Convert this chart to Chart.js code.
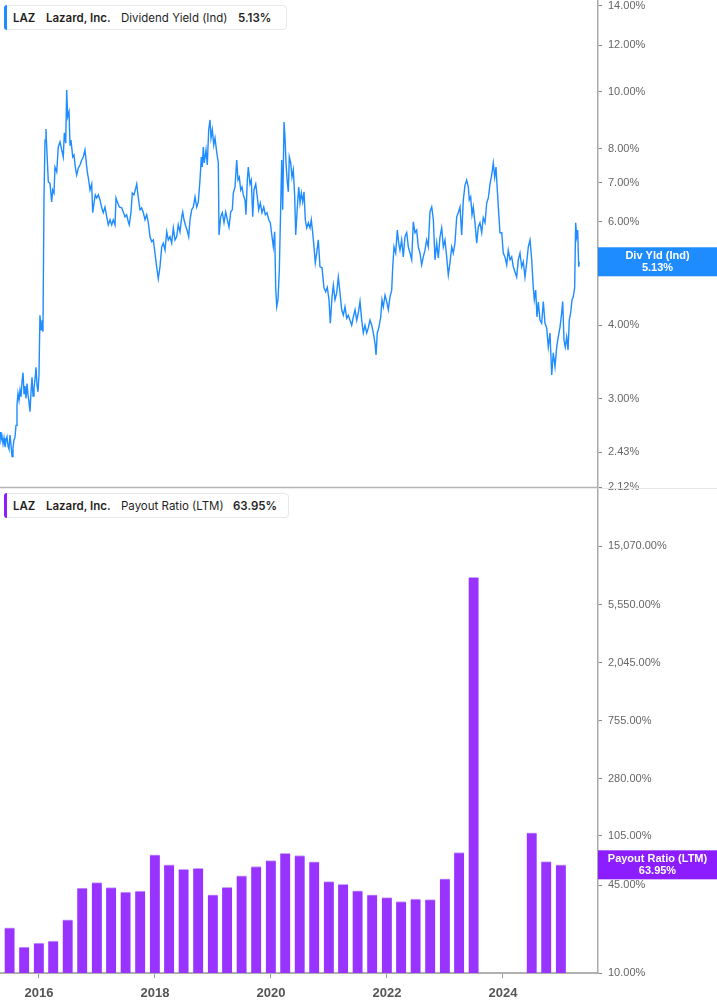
<!DOCTYPE html>
<html>
<head>
<meta charset="utf-8">
<script src="https://cdn.jsdelivr.net/npm/chart.js@4.4.1/dist/chart.umd.min.js"></script>
<style>
  html, body { margin:0; padding:0; background:#fff; }
  body { width:717px; height:1005px; position:relative; overflow:hidden; font-family: Inter, "Noto Sans", Arial, sans-serif; }
  canvas { position:absolute; left:0; }
  .leg { position:absolute; left:4px; height:25px; border:1px solid #e6e6e6; border-radius:4px; background:#fff; z-index:5; box-sizing:border-box; }
  .leg .cb { position:absolute; left:-1px; top:-1px; bottom:-1px; width:3px; border-radius:3px 0 0 3px; }
  .leg span { position:absolute; top:5px; font-size:11.5px; color:#1f1f1f; white-space:nowrap; line-height:14px; }
  .leg .b { font-weight:600; }
</style>
</head>
<body>
<canvas id="bot" width="717" height="517" style="top:488px"></canvas>
<canvas id="top" width="717" height="500" style="top:0px"></canvas>

<div class="leg" style="top:5px;width:283px;">
  <div class="cb" style="background:#1e8cff"></div>
  <span class="b" style="left:8px">LAZ</span>
  <span class="b" style="left:41px">Lazard, Inc.</span>
  <span style="left:116px">Dividend Yield (Ind)</span>
  <span class="b" style="left:233px">5.13%</span>
</div>
<div class="leg" style="top:493px;width:285px;">
  <div class="cb" style="background:#8b1dff"></div>
  <span class="b" style="left:8px">LAZ</span>
  <span class="b" style="left:41px">Lazard, Inc.</span>
  <span style="left:116px">Payout Ratio (LTM)</span>
  <span class="b" style="left:228px">63.95%</span>
</div>

<script>
// ---------------- DATA ----------------
const yieldDates = [
2015.328,2015.345,2015.362,2015.380,2015.397,2015.414,2015.431,2015.449,2015.466,2015.483,
2015.500,2015.518,2015.535,2015.552,2015.569,2015.587,2015.604,2015.621,2015.638,2015.656,
2015.673,2015.690,2015.707,2015.725,2015.742,2015.759,2015.776,2015.794,2015.811,2015.828,
2015.845,2015.863,2015.880,2015.897,2015.914,2015.931,2015.949,2015.966,2015.983,2016.000,
2016.017,2016.035,2016.052,2016.069,2016.086,2016.104,2016.121,
2016.133,2016.161,2016.190,2016.219,2016.237,2016.259,2016.276,2016.306,2016.333,2016.363,
2016.392,2016.419,2016.437,2016.461,2016.478,2016.495,2016.518,2016.535,2016.552,2016.582,
2016.604,2016.626,2016.650,2016.678,2016.707,2016.737,2016.764,2016.793,2016.811,2016.833,
2016.857,2016.880,2016.909,2016.926,2016.949,2016.971,2016.995,2017.023,2017.052,
2017.082,2017.109,2017.138,2017.168,2017.195,2017.225,2017.254,2017.281,2017.311,2017.328,
2017.350,2017.385,2017.426,2017.454,2017.483,2017.512,2017.540,2017.557,2017.587,2017.609,
2017.638,2017.668,2017.685,2017.713,2017.742,2017.771,2017.799,2017.828,2017.857,2017.885,
2017.914,2017.943,2017.971,2018.000,2018.029,2018.057,2018.086,
2018.116,2018.143,2018.173,2018.202,2018.230,2018.259,2018.288,2018.316,2018.345,2018.374,
2018.402,2018.431,2018.461,2018.478,2018.500,2018.535,2018.557,2018.581,2018.604,2018.633,
2018.661,2018.690,2018.719,2018.747,2018.776,2018.799,2018.816,2018.833,2018.850,2018.880,
2018.902,2018.926,2018.949,2018.966,2018.989,2019.013,2019.035,2019.064,2019.092,2019.104,
2019.133,2019.161,2019.190,2019.219,2019.247,2019.276,2019.306,2019.333,2019.351,2019.380,
2019.409,2019.431,2019.454,2019.478,2019.500,2019.523,2019.552,2019.569,2019.592,2019.609,
2019.638,2019.661,2019.685,2019.707,2019.737,2019.764,2019.788,2019.816,2019.845,2019.875,
2019.902,2019.931,2019.961,2019.988,2020.018,2020.040,2020.064,2020.081,2020.099,2020.121,2020.144,
2020.185,2020.202,2020.225,2020.242,2020.259,2020.281,2020.299,2020.316,2020.340,2020.362,
2020.385,2020.409,2020.426,2020.454,2020.478,2020.500,2020.523,2020.547,2020.569,2020.592,
2020.616,2020.644,2020.673,2020.695,2020.719,2020.742,2020.764,2020.788,2020.816,2020.845,
2020.880,2020.914,2020.943,2020.971,2021.000,2021.023,2021.052,2021.075,2021.104,2021.133,
2021.161,2021.190,
2021.219,2021.247,2021.276,2021.306,2021.333,2021.362,2021.392,2021.419,2021.449,2021.478,
2021.506,2021.535,2021.564,2021.592,2021.621,2021.650,2021.678,2021.707,2021.737,2021.764,
2021.793,2021.811,2021.833,2021.862,2021.892,2021.914,2021.937,2021.966,2021.995,2022.023,
2022.052,2022.081,2022.099,2022.121,2022.150,2022.178,2022.202,2022.224,
2022.253,2022.281,2022.310,2022.340,2022.368,2022.397,2022.426,2022.454,2022.483,2022.512,
2022.540,2022.569,2022.598,2022.626,2022.655,2022.684,2022.712,2022.741,2022.771,2022.799,
2022.828,2022.857,2022.885,2022.914,2022.943,2022.971,2023.000,2023.029,2023.057,2023.086,
2023.116,2023.143,2023.172,2023.202,2023.229,2023.259,
2023.288,2023.316,2023.345,2023.374,2023.402,2023.419,2023.443,2023.466,2023.488,2023.517,
2023.547,2023.574,2023.603,2023.633,2023.660,2023.690,2023.719,2023.747,2023.776,2023.805,
2023.833,2023.857,2023.879,2023.902,2023.926,2023.948,2023.978,2024.005,2024.034,2024.064,
2024.091,2024.121,2024.150,2024.178,2024.207,2024.236,2024.264,2024.293,
2024.322,2024.350,2024.379,2024.409,2024.436,2024.466,2024.495,2024.522,2024.540,2024.564,
2024.586,2024.609,2024.638,2024.667,2024.695,2024.724,2024.753,2024.781,2024.810,2024.840,
2024.867,2024.897,2024.926,2024.953,2024.983,2025.012,2025.029,2025.052,2025.074,2025.098,
2025.121,2025.143,2025.167,2025.190,2025.212,2025.236,2025.253,2025.271,2025.288,2025.305,2025.316
];
const yieldValues = [
2.63,2.55,2.59,2.51,2.57,2.48,2.54,2.58,2.49,2.46,
2.60,2.50,2.39,2.47,2.55,2.58,2.70,2.92,3.06,2.98,
3.10,3.02,3.20,3.32,3.06,3.15,3.00,3.18,3.04,2.96,
2.85,3.08,3.26,3.03,3.12,3.23,3.39,3.16,3.08,3.29,
4.16,3.93,4.08,3.90,6.54,8.27,8.64,
8.06,7.02,6.98,6.49,6.80,6.72,7.44,7.30,8.05,8.21,
7.96,7.74,8.51,8.17,10.07,9.06,9.24,8.11,8.27,7.74,
7.80,7.44,7.21,7.41,7.50,7.65,7.74,7.96,7.65,7.30,
7.07,6.80,6.96,6.22,6.46,6.67,6.59,6.67,6.54,
6.34,6.22,6.36,6.12,5.93,6.05,5.93,6.05,5.93,6.59,
6.49,6.36,6.34,6.24,6.12,6.17,6.00,5.93,6.24,6.72,
6.67,6.85,6.96,6.59,6.29,6.34,6.22,6.05,6.17,5.98,
5.66,5.55,5.59,5.31,5.03,4.80,5.03,
5.44,5.52,5.37,5.77,5.59,5.66,5.52,5.86,5.59,5.66,
5.93,5.77,6.12,6.24,6.05,5.88,5.79,5.66,6.05,6.29,
6.36,6.62,6.36,6.49,7.07,7.74,7.44,8.05,7.56,7.96,
7.50,8.61,8.95,8.34,8.61,8.11,8.34,7.89,7.56,5.70,
6.12,6.22,5.98,6.24,6.05,5.88,6.24,6.29,6.72,6.88,
7.65,7.07,7.15,6.80,6.88,6.67,6.54,6.17,7.07,7.44,
6.96,7.07,6.12,6.80,6.96,6.62,6.29,6.46,6.22,6.36,
6.17,6.22,6.05,5.98,5.66,5.44,5.77,4.64,4.30,4.42,4.97,
7.65,6.29,8.88,8.34,7.56,7.02,6.75,7.74,7.56,7.15,
7.36,6.62,5.70,6.36,6.88,6.46,6.72,6.49,6.75,6.05,
5.86,5.98,5.86,6.05,5.75,5.44,5.11,5.31,5.59,5.03,
5.01,4.63,4.56,4.64,4.42,4.03,4.47,4.68,4.42,4.54,
4.83,4.54,
4.25,4.16,4.30,4.11,4.16,4.08,4.00,4.13,4.25,4.08,
4.20,4.39,4.08,3.88,4.00,3.88,3.96,4.08,4.00,3.88,
3.73,3.56,3.88,3.97,4.13,4.42,4.30,4.50,4.39,4.25,
4.47,4.59,5.03,5.44,5.31,5.81,5.52,5.37,
5.59,5.23,5.66,5.75,5.44,5.31,5.17,6.00,5.75,5.81,
5.44,5.31,5.07,5.23,5.37,5.59,5.44,6.24,6.36,6.05,
5.17,5.52,5.21,5.66,5.86,5.44,5.59,5.23,4.87,5.11,
5.44,5.31,5.52,6.12,6.22,6.36,
5.70,6.54,6.93,7.07,6.88,6.54,6.62,6.17,6.36,5.98,
5.52,5.88,5.98,5.75,6.10,5.98,6.46,6.59,6.96,7.21,
7.56,7.15,7.44,6.80,6.22,5.75,5.75,5.31,5.23,5.07,
5.37,5.17,5.23,5.03,4.93,4.83,5.17,5.31,
5.03,5.13,4.83,5.11,5.44,5.59,5.17,4.64,4.42,4.59,
4.13,4.38,4.08,4.03,4.39,4.03,3.96,3.67,3.88,3.29,
3.59,3.40,3.67,3.82,3.97,4.20,4.39,3.77,3.67,3.82,
3.63,4.08,4.20,4.42,4.47,4.64,5.98,5.66,5.81,5.03,5.13
];

const payoutQuarters = [
'2015-06-30','2015-09-30','2015-12-31',
'2016-03-31','2016-06-30','2016-09-30','2016-12-31',
'2017-03-31','2017-06-30','2017-09-30','2017-12-31',
'2018-03-31','2018-06-30','2018-09-30','2018-12-31',
'2019-03-31','2019-06-30','2019-09-30','2019-12-31',
'2020-03-31','2020-06-30','2020-09-30','2020-12-31',
'2021-03-31','2021-06-30','2021-09-30','2021-12-31',
'2022-03-31','2022-06-30','2022-09-30','2022-12-31',
'2023-03-31','2023-06-30','2023-09-30','2023-12-31',
'2024-03-31','2024-06-30','2024-09-30','2024-12-31'
];
const payoutValues = [
21.7,15.6,16.7,
17.3,24.9,43.0,47.1,
43.2,40.1,40.8,75.9,
63.9,59.3,60.3,38.3,
43.5,52.9,62.1,68.8,
78.0,75.0,67.3,48.0,
45.7,41.0,38.3,36.4,
34.1,35.6,35.2,50.2,
79.0,8850,null,null,
null,110.9,67.6,63.95
];

const yieldTicks = [2.12, 2.43, 3, 4, 5, 6, 7, 8, 10, 12, 14];
const payoutTicks = [10, 45, 105, 280, 755, 2045, 5550, 15070];
const yearTicks = [2016, 2018, 2020, 2022, 2024];

const lastYield = 5.13;
const lastPayout = 63.95;

// ---------------- HELPERS ----------------
const X_MIN = 2015.328, X_MAX = 2025.638;
const BLUE = '#1e8cff', BLUE_BOX = '#1e8cff';
const PURPLE = '#9933ff', PURPLE_BOX = '#8b1dff';
const TICK_FONT = { family: '"Liberation Sans", Arial, sans-serif', size: 11 };

function toYear(s) {
  const d = new Date(s + 'T00:00:00Z');
  const y = d.getUTCFullYear();
  const a = Date.UTC(y, 0, 1), b = Date.UTC(y + 1, 0, 1);
  return y + (d.getTime() - a) / (b - a);
}

function noPad(s) { s.paddingTop = 0; s.paddingBottom = 0; }

function valueBox(value, color, line1, line2) {
  return {
    id: 'valueBox',
    afterDraw(chart) {
      const ctx = chart.ctx;
      const ys = chart.scales.y;
      const yc = ys.getPixelForValue(value);
      const x0 = chart.chartArea.right;
      const w = chart.width - x0;
      ctx.save();
      ctx.fillStyle = color;
      ctx.fillRect(x0, yc - 14.5, w, 29);
      ctx.fillStyle = '#fff';
      ctx.font = 'bold 11px "Liberation Sans", Arial, sans-serif';
      ctx.textAlign = 'center';
      ctx.textBaseline = 'middle';
      ctx.fillText(line1, x0 + w / 2, yc - 6);
      ctx.fillText(line2, x0 + w / 2, yc + 6);
      ctx.restore();
    }
  };
}

const topFrame = {
  id: 'topFrame',
  afterDraw(chart) {
    const ctx = chart.ctx, a = chart.chartArea;
    ctx.save();
    ctx.strokeStyle = '#b5b5b5';
    ctx.lineWidth = 1.5;
    ctx.beginPath();
    ctx.moveTo(0, a.bottom + 0.5);
    ctx.lineTo(a.right, a.bottom + 0.5);
    ctx.stroke();
    ctx.strokeStyle = '#e6e6e6';
    ctx.lineWidth = 1;
    ctx.beginPath();
    ctx.moveTo(a.right, a.bottom + 1.5);
    ctx.lineTo(chart.width, a.bottom + 1.5);
    ctx.stroke();
    ctx.restore();
  }
};

// ---------------- TOP CHART ----------------
new Chart(document.getElementById('top'), {
  type: 'line',
  data: {
    datasets: [{
      data: yieldDates.map((x, i) => ({ x: x, y: yieldValues[i] })),
      borderColor: BLUE,
      borderWidth: 1.4,
      pointRadius: 0,
      tension: 0,
      fill: false
    }]
  },
  options: {
    responsive: false,
    animation: false,
    layout: { padding: { top: 0, bottom: 13, left: 0, right: 0 } },
    plugins: { legend: { display: false }, tooltip: { enabled: false } },
    scales: {
      x: { type: 'linear', min: X_MIN, max: X_MAX, display: false },
      y: {
        type: 'logarithmic', position: 'right', min: 2.12, max: 14.33,
        afterBuildTicks: s => { s.ticks = yieldTicks.map(v => ({ value: v })); },
        afterFit: s => { s.width = 119; noPad(s); },
        ticks: { callback: v => Number(v).toFixed(2) + '%', color: '#666', font: TICK_FONT, padding: 6, autoSkip: false },
        grid: { drawOnChartArea: false, drawTicks: true, tickLength: 4, color: '#888' },
        border: { display: true, color: '#aaa', width: 1.5 }
      }
    }
  },
  plugins: [topFrame, valueBox(lastYield, BLUE_BOX, 'Div Yld (Ind)', lastYield.toFixed(2) + '%')]
});

// ---------------- BOTTOM CHART ----------------
new Chart(document.getElementById('bot'), {
  type: 'bar',
  data: {
    datasets: [{
      data: payoutQuarters.map((d, i) => ({ x: toYear(d), y: payoutValues[i] })),
      backgroundColor: PURPLE,
      borderColor: '#c7a2ff',
      borderWidth: { top: 1, right: 0, bottom: 0, left: 0 },
      barThickness: 10
    }]
  },
  options: {
    responsive: false,
    animation: false,
    layout: { padding: { top: 0, bottom: 0, left: 0, right: 0 } },
    plugins: { legend: { display: false }, tooltip: { enabled: false } },
    scales: {
      x: {
        type: 'linear', min: X_MIN, max: X_MAX, offset: false,
        afterBuildTicks: s => { s.ticks = yearTicks.map(v => ({ value: v })); },
        afterFit: s => { s.height = 32; s.paddingLeft = 0; s.paddingRight = 0; },
        ticks: { callback: v => String(v), color: '#555', font: { family: '"Liberation Sans", Arial, sans-serif', size: 13, weight: 'bold' }, padding: 8, autoSkip: false, maxRotation: 0 },
        grid: { drawOnChartArea: false, drawTicks: true, tickLength: 5, color: '#999', offset: false },
        border: { display: true, color: '#b0b0b0', width: 2 }
      },
      y: {
        type: 'logarithmic', position: 'right', min: 10, max: 41000,
        afterBuildTicks: s => { s.ticks = payoutTicks.map(v => ({ value: v })); },
        afterFit: s => { s.width = 119; noPad(s); },
        ticks: {
          callback: v => Number(v).toLocaleString('en-US', { minimumFractionDigits: 2, maximumFractionDigits: 2 }) + '%',
          color: '#666', font: TICK_FONT, padding: 6, autoSkip: false
        },
        grid: { drawOnChartArea: false, drawTicks: true, tickLength: 4, color: '#888' },
        border: { display: true, color: '#aaa', width: 1.5 }
      }
    }
  },
  plugins: [valueBox(lastPayout, PURPLE_BOX, 'Payout Ratio (LTM)', lastPayout.toFixed(2) + '%')]
});
</script>
</body>
</html>
